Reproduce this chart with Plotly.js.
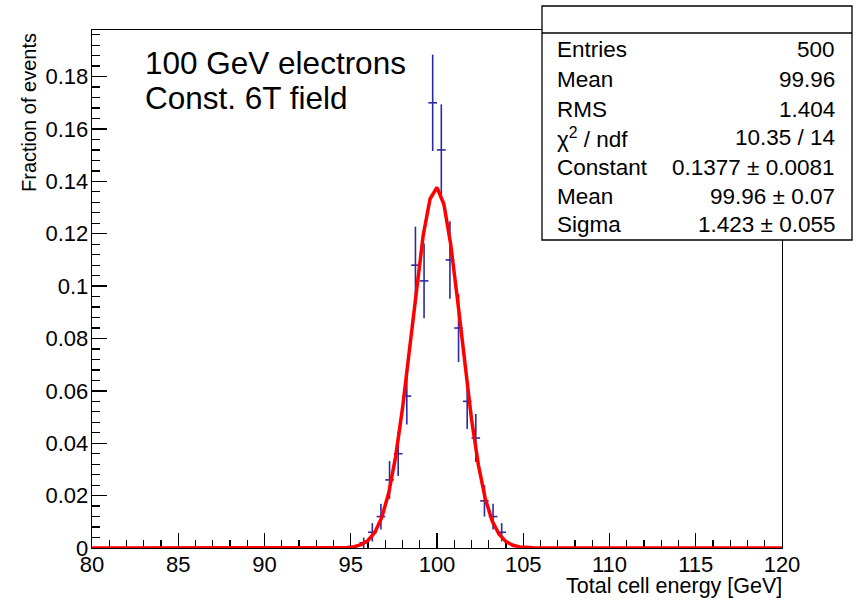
<!DOCTYPE html>
<html>
<head>
<meta charset="utf-8">
<script src="https://cdn.plot.ly/plotly-3.0.1.min.js"></script>
<style>html,body{margin:0;padding:0;background:#fff;}#chart{width:857px;height:600px;}</style>
</head>
<body>
<div id="chart"></div>
<script>
// ---- data ----
const binCenters = [95.75, 96.25, 96.75, 97.25, 97.75, 98.25, 98.75, 99.25, 99.75, 100.25, 100.75, 101.25, 101.75, 102.25, 102.75, 103.25, 103.75];
const fractions  = [0.002, 0.006, 0.012, 0.026, 0.036, 0.058, 0.108, 0.102, 0.170, 0.152, 0.110, 0.084, 0.056, 0.042, 0.018, 0.012, 0.006];
const fracErrors = [0.0020, 0.0035, 0.0049, 0.0072, 0.0085, 0.0108, 0.0147, 0.0143, 0.0184, 0.0174, 0.0148, 0.0130, 0.0106, 0.0092, 0.0060, 0.0049, 0.0035];
const binWidth = 0.5;

// Gaussian fit parameters (from the stats box)
const fitConstant = 0.1377;
const fitMean = 99.96;
const fitSigma = 1.423;
const fitRange = [80, 120];
const fitNpx = 100;

const statNames  = ['Entries', 'Mean', 'RMS', 'χ<sup>2</sup> / ndf', 'Constant', 'Mean', 'Sigma'];
const statValues = ['500', '99.96', '1.404', '10.35 / 14', '0.1377 ± 0.0081', '99.96 ± 0.07', '1.423 ± 0.055'];

const labelLines = ['100 GeV electrons', 'Const. 6T field'];
const xTitle = 'Total cell energy [GeV]';
const yTitle = 'Fraction of events';

// ---- fit curve evaluated from the fit parameters ----
const fitX = [], fitY = [];
for (let i = 0; i <= fitNpx; i++) {
  const x = fitRange[0] + (fitRange[1] - fitRange[0]) * i / fitNpx;
  fitX.push(x);
  fitY.push(fitConstant * Math.exp(-0.5 * Math.pow((x - fitMean) / fitSigma, 2)));
}

// ---- layout geometry (pixels) ----
const W = 857, H = 600;
const L = 92, R = 782, T = 30, B = 548;
const px = v => (v - L) / (R - L);
const py = v => (B - v) / (B - T);

const FONT = 'Liberation Sans, Arial, Helvetica, sans-serif';
const blue = '#2a2aa3';

const traces = [
  {
    x: binCenters, y: fractions, type: 'scatter', mode: 'markers',
    marker: {size: 0.1, color: blue},
    error_y: {type: 'data', array: fracErrors, visible: true, color: blue, thickness: 1.6, width: 0},
    error_x: {type: 'constant', value: binWidth / 2, visible: true, color: blue, thickness: 1.6, width: 0},
    hoverinfo: 'x+y'
  },
  {
    x: fitX, y: fitY, type: 'scatter', mode: 'lines',
    line: {color: '#ff0000', width: 3.5, shape: 'linear'},
    hoverinfo: 'skip'
  }
];

const annotations = [];
const rowY = [49.5, 79, 109, 137.5, 167, 196, 224.5];
statNames.forEach((n, i) => {
  annotations.push({xref: 'paper', yref: 'paper', x: px(555), y: py(rowY[i]), xanchor: 'left', yanchor: 'middle',
    text: n, showarrow: false, font: {family: FONT, size: 22.5, color: '#000'}});
  annotations.push({xref: 'paper', yref: 'paper', x: px(837), y: py(rowY[i]), xanchor: 'right', yanchor: 'middle',
    text: statValues[i], showarrow: false, font: {family: FONT, size: 22.5, color: '#000'}});
});
const labelY = [63, 98];
labelLines.forEach((t, i) => {
  annotations.push({xref: 'paper', yref: 'paper', x: px(143), y: py(labelY[i]), xanchor: 'left', yanchor: 'middle',
    text: t, showarrow: false, font: {family: FONT, size: 31.5, color: '#000'}});
});
annotations.push({xref: 'paper', yref: 'paper', x: px(784), y: py(586), xanchor: 'right', yanchor: 'middle',
  text: xTitle, showarrow: false, font: {family: FONT, size: 21.5, color: '#000'}});
annotations.push({xref: 'paper', yref: 'paper', x: px(29), y: py(113), xanchor: 'center', yanchor: 'middle',
  text: yTitle, textangle: -90, showarrow: false, font: {family: FONT, size: 20, color: '#000'}});

const layout = {
  width: W, height: H,
  margin: {l: L, r: W - R, t: T, b: H - B, pad: 0},
  paper_bgcolor: '#fff', plot_bgcolor: '#fff',
  showlegend: false,
  font: {family: FONT, size: 22, color: '#000'},
  xaxis: {
    range: [80, 120], tickmode: 'linear', tick0: 80, dtick: 5,
    ticks: 'inside', ticklen: 15, tickwidth: 1.3, tickcolor: '#000',
    minor: {dtick: 1, ticks: 'inside', ticklen: 8, tickwidth: 1.3, tickcolor: '#000'},
    showline: true, linecolor: '#000', linewidth: 1.3, mirror: true,
    showgrid: false, zeroline: false, layer: 'below traces',
    ticklabelstandoff: -4,
    tickfont: {family: FONT, size: 22, color: '#000'}
  },
  yaxis: {
    range: [0, 0.1978], tickmode: 'linear', tick0: 0, dtick: 0.02,
    ticks: 'inside', ticklen: 15, tickwidth: 1.3, tickcolor: '#000',
    minor: {dtick: 0.004, ticks: 'inside', ticklen: 8, tickwidth: 1.3, tickcolor: '#000'},
    showline: true, linecolor: '#000', linewidth: 1.3, mirror: true,
    showgrid: false, zeroline: false,
    ticklabelstandoff: -2,
    tickfont: {family: FONT, size: 22, color: '#000'}
  },
  shapes: [
    {type: 'rect', xref: 'paper', yref: 'paper', x0: px(542), x1: px(852), y0: py(240), y1: py(6),
      fillcolor: '#fff', line: {color: '#000', width: 1.3}, layer: 'above'},
    {type: 'line', xref: 'paper', yref: 'paper', x0: px(542), x1: px(852), y0: py(33), y1: py(33),
      line: {color: '#000', width: 1.3}, layer: 'above'}
  ],
  annotations: annotations
};

Plotly.newPlot('chart', traces, layout, {staticPlot: true, displayModeBar: false});
</script>
</body>
</html>
